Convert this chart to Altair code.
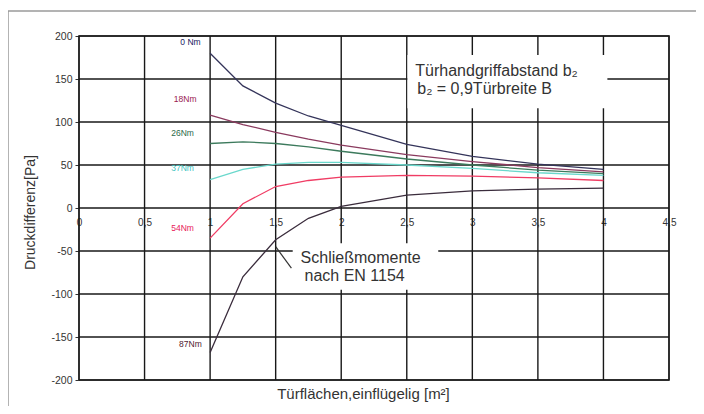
import altair as alt
import pandas as pd

# ---- data ----
areas = [1, 1.25, 1.5, 1.75, 2, 2.5, 3, 3.5, 4]
moments = ["0 Nm", "18Nm", "26Nm", "37Nm", "54Nm", "87Nm"]
p_0 = [180, 142, 122, 107, 96, 74, 60, 51, 45]
p_18 = [108, 97, 88, 80, 73, 62, 54, 47, 42]
p_26 = [75, 77, 75, 71, 66, 57, 50, 44, 40]
p_37 = [33, 45, 51, 53, 53, 50, 46, 41, 38]
p_54 = [-35, 5, 25, 32, 36, 38, 37, 35, 32]
p_87 = [-168, -80, -37, -12, 2, 15, 20, 22, 23]
series = [p_0, p_18, p_26, p_37, p_54, p_87]
line_colors = ["#34345a", "#8a3a5e", "#3c7a5c", "#6ad8cc", "#f03c64", "#3a2c3c"]
label_colors = ["#202060", "#9a2050", "#2a6a4a", "#40c4c0", "#e8205a", "#502030"]
label_x = [0.85, 0.81, 0.79, 0.79, 0.79, 0.85]
label_y = [193, 127, 87, 47, -23, -158]

x_ticks = [0, 0.5, 1, 1.5, 2, 2.5, 3, 3.5, 4, 4.5]
y_ticks = [-200, -150, -100, -50, 0, 50, 100, 150, 200]

rows = []
for m, vals in zip(moments, series):
    for a, v in zip(areas, vals):
        rows.append({"area": a, "dp": v, "moment": m})
df = pd.DataFrame(rows)
labels_df = pd.DataFrame({"moment": moments, "x": label_x, "y": label_y, "c": label_colors})

FONT = "Liberation Sans"
xs = alt.Scale(domain=[0, 4.5], nice=False, zero=False)
ys = alt.Scale(domain=[-200, 200], nice=False, zero=False)
one = pd.DataFrame({"a": [0]})

x_axis = alt.Axis(
    orient="bottom", offset=-172, values=x_ticks, grid=False, domain=False, ticks=False,
    labelPadding=9, labelFontSize=10, labelColor="#333", labelFont=FONT,
    labelFlush=False, labelOverlap=False,
    labelExpr="replace(toString(datum.value), '.', ',')",
    title="Türflächen,einflügelig [m²]", titleX=284, titleY=185, titleBaseline="middle",
    titleFontSize=15, titleFontWeight="normal", titleColor="#333", titleFont=FONT)
y_axis = alt.Axis(
    orient="left", values=y_ticks, grid=False, domain=False, ticks=True, tickSize=4,
    tickColor="#333", labelPadding=3, labelFontSize=10.5, labelColor="#333", labelFont=FONT,
    labelExpr="toString(datum.value)",
    title="Druckdifferenz[Pa]", titleX=-49, titleY=176, titleAngle=270,
    titleAlign="center", titleBaseline="middle",
    titleFontSize=14, titleFontWeight="normal", titleColor="#333", titleFont=FONT)

vgrid = alt.Chart(pd.DataFrame({"x": x_ticks})).mark_rule(color="#181818", strokeWidth=1.4).encode(
    x=alt.X("x:Q", scale=xs, axis=x_axis),
)
hgrid = alt.Chart(pd.DataFrame({"y": y_ticks})).mark_rule(color="#181818", strokeWidth=1.4).encode(
    y=alt.Y("y:Q", scale=ys, axis=y_axis),
)

curves = alt.Chart(df).mark_line(strokeWidth=1.3).encode(
    x=alt.X("area:Q", scale=xs, axis=x_axis),
    y=alt.Y("dp:Q", scale=ys, axis=y_axis),
    color=alt.Color("moment:N", scale=alt.Scale(domain=moments, range=line_colors), legend=None),
    detail="moment:N",
)

curve_labels = alt.Chart(labels_df).mark_text(fontSize=8.5, font=FONT).encode(
    x=alt.X("x:Q", scale=xs, axis=x_axis),
    y=alt.Y("y:Q", scale=ys, axis=y_axis),
    text="moment:N",
    color=alt.Color("c:N", scale=None),
)

def XD(v):
    return alt.XDatum(v, type="quantitative", scale=xs, axis=x_axis)

def YD(v):
    return alt.YDatum(v, type="quantitative", scale=ys, axis=y_axis)

box1 = alt.Chart(one).mark_rect(fill="white").encode(
    x=XD(2.505), x2=alt.X2Datum(4.03), y=YD(178), y2=alt.Y2Datum(116))
box2 = alt.Chart(one).mark_rect(fill="white").encode(
    x=XD(1.63), x2=alt.X2Datum(2.74), y=YD(-41), y2=alt.Y2Datum(-95))

def note(txt, x, y):
    return alt.Chart(one).mark_text(align="left", baseline="middle", fontSize=16,
                                    font=FONT, color="#333").encode(
        x=XD(x), y=YD(y), text=alt.value(txt))

leader = alt.Chart(one).mark_rule(color="#333", strokeWidth=1.2).encode(
    x=XD(1.5), x2=alt.X2Datum(1.62), y=YD(-45), y2=alt.Y2Datum(-70))

frame = alt.Chart(one).mark_rect(fill=None, stroke="#9a9a9a", strokeWidth=1.5).encode(
    x=alt.value(-71), x2=alt.value(619), y=alt.value(-25), y2=alt.value(372))

chart = alt.layer(
    vgrid, hgrid, curves, curve_labels, box1, box2,
    note("Türhandgriffabstand b₂", 2.565, 159),
    note("b₂ = 0,9Türbreite B", 2.58, 138),
    note("Schließmomente", 1.69, -58),
    note("nach EN 1154", 1.72, -79),
    leader, frame,
).properties(
    width=590, height=344,
    autosize=alt.AutoSizeParams(type="none"),
    padding={"left": 71, "top": 28, "right": 27, "bottom": 26},
    background="white",
).configure_view(stroke="#6a6a6a", strokeWidth=2)

chart.save("out.html", embed_options={"renderer": "svg", "actions": False})
